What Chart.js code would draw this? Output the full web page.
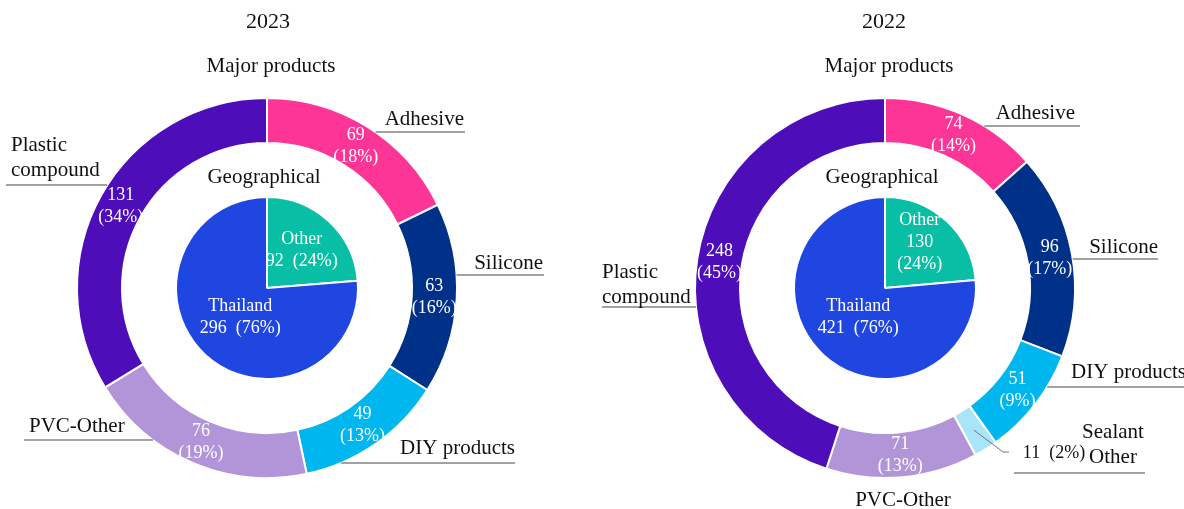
<!DOCTYPE html>
<html lang="en">
<head>
  <meta charset="UTF-8" />
  <title>Revenue breakdown 2023 / 2022</title>
  <script src="https://cdn.jsdelivr.net/npm/chart.js"></script>
  <style>
    body { margin: 0; background: #fff; }
    .wrap { position: relative; width: 1184px; height: 509px; }
    .wrap canvas { position: absolute; top: 0; }
  </style>
</head>
<body>
  <div class="wrap">
    <canvas id="c2023" width="592" height="509" style="left:0"></canvas>
    <canvas id="c2022" width="592" height="509" style="left:592px"></canvas>
  </div>

  <script>
    // --- data ---
    const products2023 = ['Adhesive', 'Silicone', 'DIY products', 'PVC-Other', 'Plastic compound'];
    const values2023 = [69, 63, 49, 76, 131];
    const pct2023 = [18, 16, 13, 19, 34];

    const products2022 = ['Adhesive', 'Silicone', 'DIY products', 'Sealant Other', 'PVC-Other', 'Plastic compound'];
    const values2022 = [74, 96, 51, 11, 71, 248];
    const pct2022 = [14, 17, 9, 2, 13, 45];

    const regions = ['Other', 'Thailand'];
    const geo2023 = [92, 296];
    const geoPct2023 = [24, 76];
    const geo2022 = [130, 421];
    const geoPct2022 = [24, 76];

    const productColors = {
      'Adhesive': '#FD3596',
      'Silicone': '#003189',
      'DIY products': '#00B6EF',
      'Sealant Other': '#A9E5F8',
      'PVC-Other': '#B295D9',
      'Plastic compound': '#4D0DB9'
    };
    const regionColors = ['#08BFA6', '#1F46E1'];

    const FONT = '"Liberation Serif", "Times New Roman", serif';
    Chart.defaults.font.family = FONT;

    // where the outside labels go, relative to the ring centre
    const callouts2023 = [
      { lineDy: -156, endDx: 198, align: 'right', textDx: 197, textDy: -169 },
      { lineDy: -13, endDx: 277, align: 'right', textDx: 276, textDy: -25 },
      { lineDy: 175, endDx: 248, align: 'right', textDx: 248, textDy: 160 },
      { lineDy: 152, endDx: -243, align: 'left', textDx: -238, textDy: 138 },
      { lineDy: -103, endDx: -261, align: 'left', textDx: -256, textDy: -143, wrap: true }
    ];
    const callouts2022 = [
      { lineDy: -162, endDx: 195, align: 'right', textDx: 190, textDy: -175 },
      { lineDy: -29, endDx: 273, align: 'right', textDx: 273, textDy: -41 },
      { lineDy: 99, endDx: 302, align: 'right', textDx: 301, textDy: 84 },
      { freeLine: [129, 260, 185], align: 'center', textDx: 228, textDy: 144, wrap: true,
        valueOut: { dx: 169, dy: 165, leader: [[118, 164], [124, 164]] } },
      { noLine: true, align: 'center', textDx: 18, textDy: 212 },
      { lineDy: 19, endDx: -283, align: 'left', textDx: -283, textDy: -16, wrap: true }
    ];

    function drawLines(ctx, lines, x, y, gap) {
      const top = y - (lines.length - 1) * gap / 2;
      lines.forEach((t, i) => ctx.fillText(t, x, top + i * gap));
    }

    const ringLabels = {
      id: 'ringLabels',
      afterDraw(chart, args, o) {
        const ctx = chart.ctx;
        const outer = chart.getDatasetMeta(0).data;
        const inner = chart.getDatasetMeta(2).data;
        const cx = outer[0].x, cy = outer[0].y, R = outer[0].outerRadius;
        ctx.save();
        ctx.textAlign = 'center';
        ctx.textBaseline = 'middle';
        ctx.fillStyle = '#111';
        ctx.font = '22px ' + FONT;
        ctx.fillText(o.year, cx + o.yearDx, cy - 266);
        ctx.font = '21px ' + FONT;
        ctx.fillText('Major products', cx + 4, cy - 222);
        ctx.fillText('Geographical', cx - 3, cy - 111);

        // values on the ring
        ctx.font = '18px ' + FONT;
        outer.forEach((arc, i) => {
          const c = o.callouts[i];
          if (c.valueOut) return;
          const p = arc.tooltipPosition();
          ctx.fillStyle = '#fff';
          drawLines(ctx, [String(o.values[i]), '(' + o.pct[i] + '%)'], p.x, p.y, 22);
        });

        // values on the pie
        inner.forEach((arc, i) => {
          const p = arc.tooltipPosition();
          ctx.fillStyle = '#fff';
          let lines;
          if (o.stackGeo && i === 0) {
            lines = [regions[i], String(o.geo[i]), '(' + o.geoPct[i] + '%)'];
          } else {
            lines = [regions[i], o.geo[i] + '  (' + o.geoPct[i] + '%)'];
          }
          drawLines(ctx, lines, p.x + 4, p.y + (o.stackGeo && i === 0 ? -12 : -4), 22);
        });

        // outside labels and leader lines
        ctx.strokeStyle = '#444';
        ctx.lineWidth = 1.2;
        o.callouts.forEach((c, i) => {
          const name = o.labels[i];
          const lines = c.wrap ? name.split(' ') : [name];
          if (c.freeLine) {
            ctx.beginPath();
            ctx.moveTo(cx + c.freeLine[0], cy + c.freeLine[2]);
            ctx.lineTo(cx + c.freeLine[1], cy + c.freeLine[2]);
            ctx.stroke();
          } else if (!c.noLine) {
            const edge = Math.sqrt(R * R - c.lineDy * c.lineDy) * Math.sign(c.endDx);
            ctx.beginPath();
            ctx.moveTo(cx + edge, cy + c.lineDy);
            ctx.lineTo(cx + c.endDx, cy + c.lineDy);
            ctx.stroke();
          }
          ctx.fillStyle = '#111';
          ctx.font = '21px ' + FONT;
          ctx.textAlign = c.align;
          drawLines(ctx, lines, cx + c.textDx, cy + c.textDy + (lines.length - 1) * 12.5, 25);
          if (c.valueOut) {
            const p = outer[i].tooltipPosition();
            ctx.strokeStyle = '#777';
            ctx.lineWidth = 1;
            ctx.beginPath();
            ctx.moveTo(p.x, p.y);
            c.valueOut.leader.forEach(pt => ctx.lineTo(cx + pt[0], cy + pt[1]));
            ctx.stroke();
            ctx.strokeStyle = '#444';
            ctx.lineWidth = 1.2;
            ctx.font = '18px ' + FONT;
            ctx.textAlign = 'center';
            ctx.fillText(o.values[i] + '  (' + o.pct[i] + '%)', cx + c.valueOut.dx, cy + c.valueOut.dy);
          }
        });
        ctx.restore();
      }
    };

    function makeChart(id, labels, values, pct, geo, geoPct, opts) {
      return new Chart(document.getElementById(id), {
        type: 'doughnut',
        data: {
          labels: labels,
          datasets: [
            { data: values, backgroundColor: labels.map(l => productColors[l]),
              borderColor: '#fff', borderWidth: 2, weight: 45 },
            { data: [1], backgroundColor: 'rgba(0,0,0,0)', borderWidth: 0, weight: 54 },
            { data: geo, backgroundColor: regionColors, borderColor: '#fff', borderWidth: 2, weight: 91 }
          ]
        },
        options: {
          responsive: false,
          animation: false,
          devicePixelRatio: 1,
          cutout: 0,
          layout: { padding: opts.padding },
          plugins: {
            legend: { display: false },
            tooltip: { enabled: false },
            ringLabels: {
              year: opts.year, yearDx: opts.yearDx, labels: labels, values: values, pct: pct,
              geo: geo, geoPct: geoPct, callouts: opts.callouts, stackGeo: opts.stackGeo
            }
          }
        },
        plugins: [ringLabels]
      });
    }

    makeChart('c2023', products2023, values2023, pct2023, geo2023, geoPct2023, {
      year: '2023', yearDx: 1, callouts: callouts2023, stackGeo: false,
      padding: { left: 76, top: 97, right: 134, bottom: 30 }
    });
    makeChart('c2022', products2022, values2022, pct2022, geo2022, geoPct2022, {
      year: '2022', yearDx: -1, callouts: callouts2022, stackGeo: true,
      padding: { left: 102, top: 97, right: 108, bottom: 30 }
    });
  </script>
</body>
</html>
